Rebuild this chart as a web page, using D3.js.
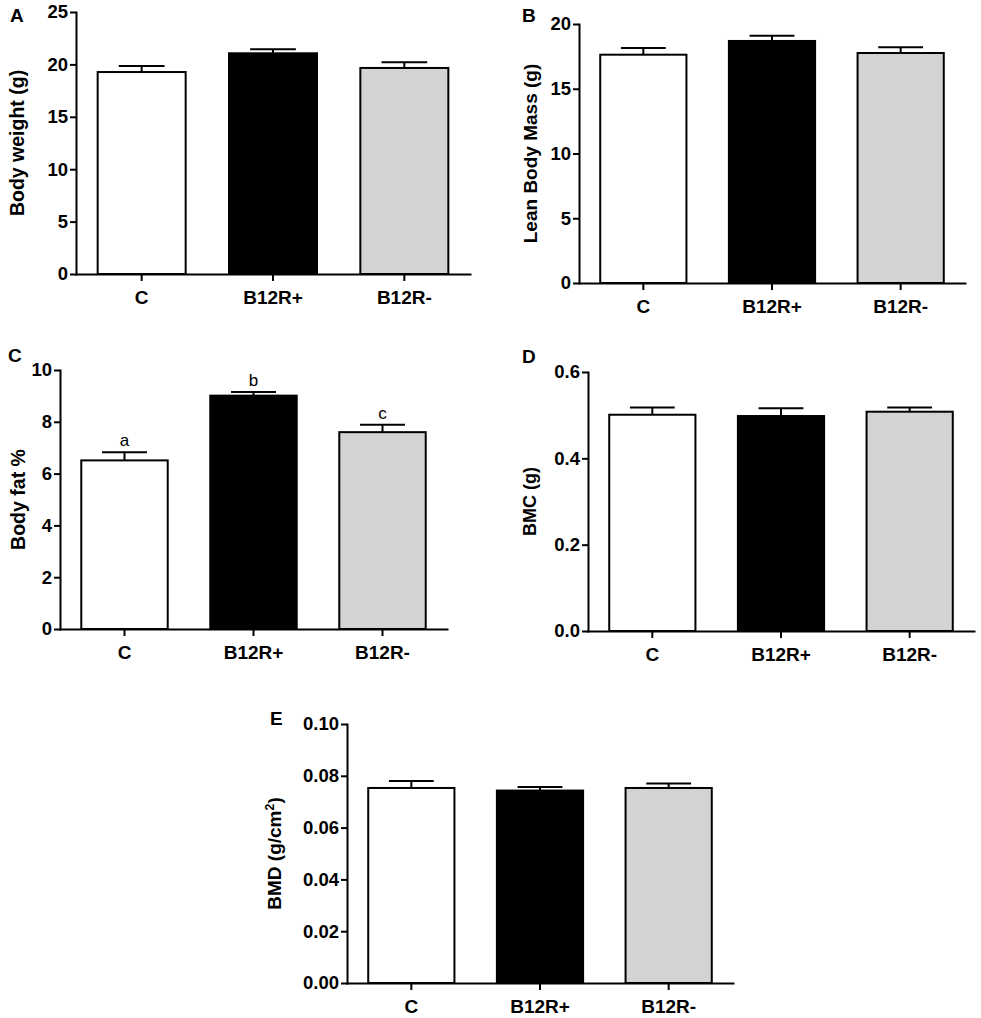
<!DOCTYPE html>
<html>
<head>
<meta charset="utf-8">
<script src="https://cdn.jsdelivr.net/npm/d3@7"></script>
<style>
  body { margin: 0; background: #fff; }
  svg text { font-family: "Liberation Sans", Arial, Helvetica, sans-serif; }
</style>
</head>
<body>
<div id="chart"></div>
<script>
// Groups shared by every panel
const groups = ['C', 'B12R+', 'B12R-'];
const barFills = ['#ffffff', '#000000', '#d3d3d3'];

// Panel A - body weight (g)
const bodyWeight = [19.27, 21.06, 19.66];
const bodyWeightErr = [0.58, 0.38, 0.54];
const bodyWeightTicks = [0, 5, 10, 15, 20, 25];

// Panel B - lean body mass (g)
const leanMass = [17.63, 18.69, 17.76];
const leanMassErr = [0.52, 0.41, 0.44];
const leanMassTicks = [0, 5, 10, 15, 20];

// Panel C - body fat %
const bodyFat = [6.51, 9.01, 7.60];
const bodyFatErr = [0.31, 0.14, 0.29];
const bodyFatTicks = [0, 2, 4, 6, 8, 10];
const bodyFatLetters = ['a', 'b', 'c'];

// Panel D - BMC (g)
const bmc = [0.501, 0.498, 0.508];
const bmcErr = [0.017, 0.018, 0.010];
const bmcTicks = [0, 0.2, 0.4, 0.6];

// Panel E - BMD (g/cm2)
const bmd = [0.0753, 0.0743, 0.0753];
const bmdErr = [0.0027, 0.0014, 0.0017];
const bmdTicks = [0, 0.02, 0.04, 0.06, 0.08, 0.10];

const svg = d3.select('#chart')
  .append('svg')
  .attr('width', 981)
  .attr('height', 1018);

// One bar panel: axes, bars, error bars and labels
function drawPanel(p) {
  let g = svg.append('g');

  let x = d3.scaleBand()
    .domain(groups)
    .range([p.left, p.right])
    .paddingInner(0.33)
    .paddingOuter(0.165);

  let y = d3.scaleLinear()
    .domain([0, p.max])
    .range([p.bottom, p.top]);

  // Bars
  g.selectAll('.bar')
    .data(p.values)
    .enter()
    .append('rect')
    .attr('class', 'bar')
    .attr('x', (d, i) => x(groups[i]))
    .attr('y', d => y(d))
    .attr('width', x.bandwidth())
    .attr('height', d => y(0) - y(d))
    .attr('fill', (d, i) => barFills[i])
    .attr('stroke', '#000')
    .attr('stroke-width', 2);

  // Error bars (upper half only)
  let capW = x.bandwidth() * 0.52;
  let errs = g.selectAll('.err')
    .data(p.values)
    .enter()
    .append('g')
    .attr('class', 'err')
    .attr('stroke', '#000')
    .attr('stroke-width', 2);

  errs.append('line')
    .attr('x1', (d, i) => x(groups[i]) + x.bandwidth() / 2)
    .attr('x2', (d, i) => x(groups[i]) + x.bandwidth() / 2)
    .attr('y1', d => y(d))
    .attr('y2', (d, i) => y(d + p.errors[i]));

  errs.append('line')
    .attr('x1', (d, i) => x(groups[i]) + x.bandwidth() / 2 - capW / 2)
    .attr('x2', (d, i) => x(groups[i]) + x.bandwidth() / 2 + capW / 2)
    .attr('y1', (d, i) => y(d + p.errors[i]))
    .attr('y2', (d, i) => y(d + p.errors[i]));

  // Significance letters
  if (p.letters) {
    g.selectAll('.sig')
      .data(p.values)
      .enter()
      .append('text')
      .attr('class', 'sig')
      .attr('x', (d, i) => x(groups[i]) + x.bandwidth() / 2)
      .attr('y', (d, i) => y(d + p.errors[i]) - 6)
      .attr('text-anchor', 'middle')
      .attr('font-size', '17px')
      .text((d, i) => p.letters[i]);
  }

  // Axes
  let leftAxis = d3.axisLeft(y)
    .tickValues(p.ticks)
    .tickFormat(d3.format(p.fmt))
    .tickSize(6)
    .tickSizeOuter(0)
    .tickPadding(2);

  let bottomAxis = d3.axisBottom(x)
    .tickSize(7)
    .tickSizeOuter(0)
    .tickPadding(9.5);

  let yAxis = g.append('g')
    .attr('transform', `translate(${p.left}, 0)`)
    .call(leftAxis);

  let xAxis = g.append('g')
    .attr('transform', `translate(0, ${p.bottom})`)
    .call(bottomAxis);

  [xAxis, yAxis].forEach(a => {
    a.selectAll('path, line')
      .attr('stroke', '#000')
      .attr('stroke-width', 2);
    a.select('.domain').attr('stroke-linecap', 'square');
    a.selectAll('text')
      .attr('fill', '#000')
      .attr('font-weight', 'bold')
      .attr('font-family', '"Liberation Sans", Arial, sans-serif');
  });
  yAxis.selectAll('text').attr('font-size', '18.5px');
  xAxis.selectAll('text').attr('font-size', '19px');

  // Y axis title
  let title = g.append('text')
    .attr('transform', `translate(${p.titleX}, ${(p.top + p.bottom) / 2}) rotate(-90)`)
    .attr('text-anchor', 'middle')
    .attr('dy', '0.36em')
    .attr('font-weight', 'bold')
    .attr('font-size', p.titleSize + 'px')
    .text(p.title);
  if (p.titleSup) {
    title.text(p.title);
    title.append('tspan')
      .attr('font-size', (p.titleSize * 0.65) + 'px')
      .attr('baseline-shift', 'super')
      .text(p.titleSup);
    title.append('tspan').text(')');
  }

  // Panel letter
  g.append('text')
    .attr('x', p.letterX)
    .attr('y', p.letterY)
    .attr('font-weight', 'bold')
    .attr('font-size', '19px')
    .text(p.letter);
}

drawPanel({
  letter: 'A', letterX: 10, letterY: 22,
  values: bodyWeight, errors: bodyWeightErr, ticks: bodyWeightTicks, max: 25, fmt: 'd',
  left: 76, right: 470, top: 12, bottom: 274,
  title: 'Body weight (g)', titleX: 17, titleSize: 19.5
});

drawPanel({
  letter: 'B', letterX: 522, letterY: 22,
  values: leanMass, errors: leanMassErr, ticks: leanMassTicks, max: 20, fmt: 'd',
  left: 579, right: 965, top: 24, bottom: 283,
  title: 'Lean Body Mass (g)', titleX: 530, titleSize: 19
});

drawPanel({
  letter: 'C', letterX: 8, letterY: 362,
  values: bodyFat, errors: bodyFatErr, ticks: bodyFatTicks, max: 10, fmt: 'd',
  letters: bodyFatLetters,
  left: 60, right: 447, top: 370, bottom: 629,
  title: 'Body fat %', titleX: 18, titleSize: 19.5
});

drawPanel({
  letter: 'D', letterX: 522, letterY: 363,
  values: bmc, errors: bmcErr, ticks: bmcTicks, max: 0.6, fmt: '.1f',
  left: 588, right: 974, top: 372, bottom: 631,
  title: 'BMC (g)', titleX: 530, titleSize: 18
});

drawPanel({
  letter: 'E', letterX: 270, letterY: 725,
  values: bmd, errors: bmdErr, ticks: bmdTicks, max: 0.10, fmt: '.2f',
  left: 347, right: 733, top: 724, bottom: 983,
  title: 'BMD (g/cm', titleSup: '2', titleX: 274, titleSize: 19
});
</script>
</body>
</html>
